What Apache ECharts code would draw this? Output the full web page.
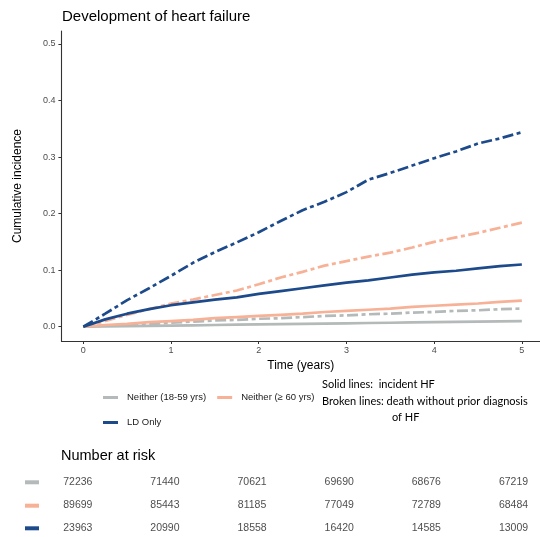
<!DOCTYPE html>
<html>
<head>
<meta charset="utf-8">
<script src="https://cdn.jsdelivr.net/npm/echarts@6/dist/echarts.min.js"></script>
<style>
  html, body { margin: 0; padding: 0; background: #fff; }
  #chart { width: 540px; height: 537px; }
</style>
</head>
<body>
<div id="chart"></div>
<script>
// Follow-up time (years), sampled every quarter year
var times = [0, 0.25, 0.5, 0.75, 1, 1.25, 1.5, 1.75, 2, 2.25, 2.5, 2.75, 3, 3.25, 3.5, 3.75, 4, 4.25, 4.5, 4.75, 5];

// Cumulative incidence of heart failure (solid lines)
var youngHF = [0, 0.0005, 0.001, 0.0015, 0.002, 0.0025, 0.003, 0.0035, 0.004, 0.0045, 0.005, 0.0055, 0.006, 0.0065, 0.007, 0.0075, 0.008, 0.0085, 0.009, 0.0095, 0.010];
var olderHF = [0, 0.003, 0.005, 0.008, 0.010, 0.012, 0.015, 0.017, 0.019, 0.021, 0.023, 0.026, 0.028, 0.030, 0.032, 0.035, 0.037, 0.039, 0.041, 0.044, 0.046];
var ldHF = [0, 0.013, 0.023, 0.031, 0.038, 0.043, 0.048, 0.052, 0.058, 0.063, 0.068, 0.073, 0.078, 0.082, 0.087, 0.092, 0.096, 0.099, 0.103, 0.107, 0.110];

// Cumulative incidence of death without prior HF diagnosis (broken lines)
var youngDeath = [0, 0.002, 0.003, 0.005, 0.007, 0.009, 0.011, 0.012, 0.014, 0.015, 0.017, 0.019, 0.020, 0.022, 0.023, 0.025, 0.026, 0.028, 0.029, 0.031, 0.032];
var olderDeath = [0, 0.010, 0.021, 0.031, 0.041, 0.048, 0.056, 0.064, 0.075, 0.087, 0.097, 0.108, 0.116, 0.124, 0.131, 0.140, 0.150, 0.158, 0.166, 0.175, 0.184];
var ldDeath = [0, 0.023, 0.047, 0.068, 0.090, 0.113, 0.132, 0.149, 0.167, 0.187, 0.206, 0.221, 0.238, 0.260, 0.272, 0.285, 0.298, 0.310, 0.324, 0.333, 0.344];

// Group names and colours
var groups = ['Neither (18-59 yrs)', 'Neither (\u2265 60 yrs)', 'LD Only'];
var groupColors = ['#b4bab9', '#f7b196', '#1c4a8b'];

// Axis ticks
var xTicks = [0, 1, 2, 3, 4, 5];
var yTicks = [0, 0.1, 0.2, 0.3, 0.4, 0.5];

// Number at risk at each yearly tick
var riskTimes = [0, 1, 2, 3, 4, 5];
var riskYoung = [72236, 71440, 70621, 69690, 68676, 67219];
var riskOlder = [89699, 85443, 81185, 77049, 72789, 68484];
var riskLD = [23963, 20990, 18558, 16420, 14585, 13009];

var FONT = '"Liberation Sans", Arial, Helvetica, sans-serif';
var NOTE_FONT = '11px Lato, "Open Sans", sans-serif';
var brokenDash = [11, 3.5, 4, 3.5];

function pairs(ys) {
  return times.map(function (t, i) { return [t, ys[i]]; });
}

function curve(name, ys, color, broken) {
  return {
    type: 'line',
    name: name,
    xAxisIndex: 0,
    yAxisIndex: 0,
    data: pairs(ys),
    showSymbol: false,
    symbol: 'none',
    color: color,
    lineStyle: { width: 2.7, color: color, type: broken ? brokenDash : 'solid', cap: 'butt' },
    silent: true,
    z: 3
  };
}

var riskRows = [riskYoung, riskOlder, riskLD];
var riskData = [];
riskRows.forEach(function (row, r) {
  row.forEach(function (n, c) { riskData.push([riskTimes[c], r, n]); });
});

var legendBase = {
  icon: 'rect', itemWidth: 15, itemHeight: 3, itemGap: 11, padding: 0,
  selectedMode: false,
  textStyle: { fontFamily: FONT, fontSize: 9.5, color: '#1a1a1a', padding: [0, 0, 0, 4] }
};

var chart = echarts.init(document.getElementById('chart'), null, { renderer: 'canvas' });

var option = {
  animation: false,
  backgroundColor: '#ffffff',
  textStyle: { fontFamily: FONT },
  title: {
    text: 'Development of heart failure',
    left: 57,
    top: 4,
    textStyle: { fontFamily: FONT, fontSize: 15, fontWeight: 'normal', color: '#000' }
  },
  grid: [
    { left: 61.4, right: 0, top: 31, bottom: 196, containLabel: false },
    { left: 77.8, right: 26.5, top: 482.3, bottom: 8.7, containLabel: false }
  ],
  legend: [
    Object.assign({}, legendBase, { data: [groups[0], groups[1]], left: 103, top: 392.5 }),
    Object.assign({}, legendBase, { data: [groups[2]], left: 103, top: 417.5 })
  ],
  xAxis: [
    {
      type: 'value', gridIndex: 0, min: -0.25, max: 5.207,
      name: 'Time (years)', nameLocation: 'middle', nameGap: 15,
      nameTextStyle: { fontFamily: FONT, fontSize: 12, color: '#000' },
      axisLine: { show: true, onZero: false, lineStyle: { color: '#333', width: 1.1 } },
      axisTick: { show: true, length: 3, customValues: xTicks, lineStyle: { color: '#333', width: 1 } },
      axisLabel: { show: true, customValues: xTicks, margin: 5, fontSize: 9, color: '#4d4d4d', fontFamily: FONT },
      splitLine: { show: false }
    },
    {
      type: 'value', gridIndex: 1, min: 0, max: 5, show: false
    }
  ],
  yAxis: [
    {
      type: 'value', gridIndex: 0, min: -0.0253, max: 0.523,
      name: 'Cumulative incidence', nameLocation: 'middle', nameGap: 38,
      nameTextStyle: { fontFamily: FONT, fontSize: 12, color: '#000' },
      axisLine: { show: true, onZero: false, lineStyle: { color: '#333', width: 1.1 } },
      axisTick: { show: true, length: 3, customValues: yTicks, lineStyle: { color: '#333', width: 1 } },
      axisLabel: {
        show: true, customValues: yTicks, margin: 6, fontSize: 9, color: '#4d4d4d', fontFamily: FONT,
        formatter: function (v) { return v.toFixed(1); }
      },
      splitLine: { show: false }
    },
    {
      type: 'value', gridIndex: 1, min: 0, max: 2, inverse: true, show: false
    }
  ],
  graphic: [
    {
      type: 'text', left: 322, top: 379,
      style: { text: 'Solid lines:  incident HF', font: NOTE_FONT, fill: '#000' }
    },
    {
      type: 'text', left: 322, top: 396,
      style: { text: 'Broken lines: death without prior diagnosis', font: NOTE_FONT, fill: '#000' }
    },
    {
      type: 'text', left: 392, top: 412,
      style: { text: 'of HF', font: NOTE_FONT, fill: '#000' }
    },
    {
      type: 'text', left: 61, top: 448,
      style: { text: 'Number at risk', font: '14.5px "Liberation Sans", Arial, sans-serif', fill: '#000' }
    },
    { type: 'rect', left: 25, top: 480.3, shape: { width: 14, height: 4 }, style: { fill: groupColors[0] } },
    { type: 'rect', left: 25, top: 503.7, shape: { width: 14, height: 4 }, style: { fill: groupColors[1] } },
    { type: 'rect', left: 25, top: 526.3, shape: { width: 14, height: 4 }, style: { fill: groupColors[2] } }
  ],
  series: [
    curve(groups[0], youngHF, groupColors[0], false),
    curve('death ' + groups[0], youngDeath, groupColors[0], true),
    curve(groups[1], olderHF, groupColors[1], false),
    curve('death ' + groups[1], olderDeath, groupColors[1], true),
    curve(groups[2], ldHF, groupColors[2], false),
    curve('death ' + groups[2], ldDeath, groupColors[2], true),
    {
      type: 'scatter',
      name: 'risk',
      xAxisIndex: 1,
      yAxisIndex: 1,
      data: riskData,
      symbol: 'circle',
      symbolSize: 1,
      itemStyle: { color: 'rgba(0,0,0,0)' },
      silent: true,
      label: {
        show: true, position: 'inside',
        formatter: function (p) { return String(p.data[2]); },
        fontFamily: FONT, fontSize: 10.5, color: '#1a1a1a'
      },
      labelLayout: { hideOverlap: false }
    }
  ]
};

chart.setOption(option);
</script>
</body>
</html>
